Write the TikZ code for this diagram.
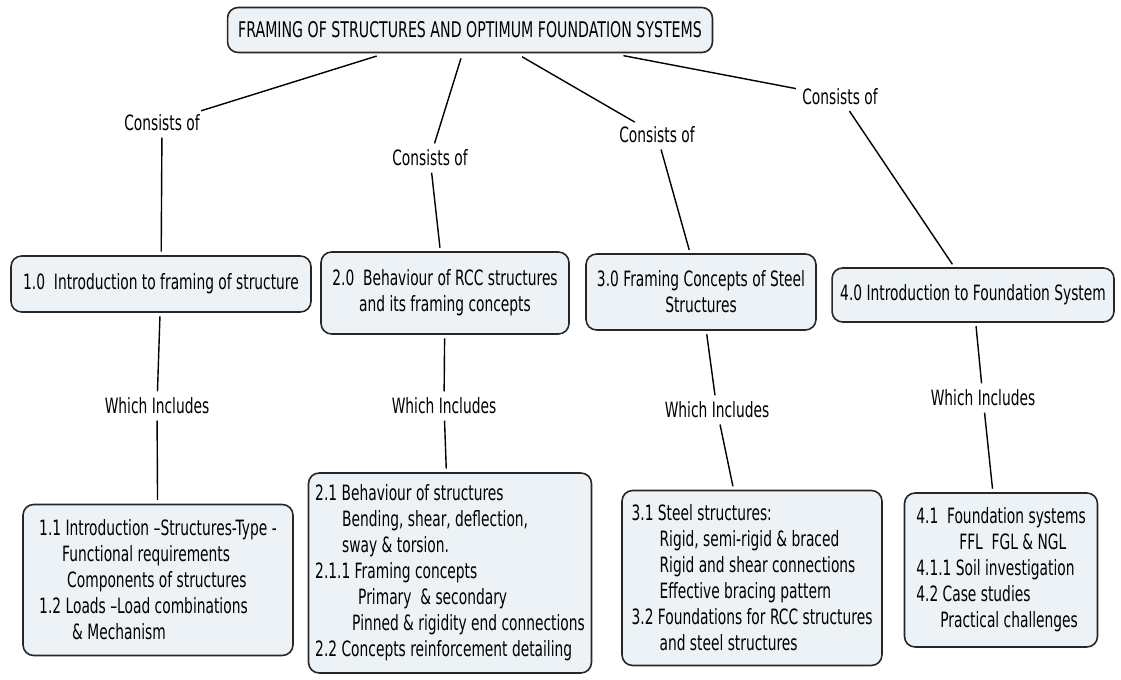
\documentclass[tikz,border=0pt]{standalone}
\usepackage{fontspec}
\setmainfont{DejaVu Sans}[FakeStretch=0.655]
\usetikzlibrary{calc,positioning}
\definecolor{mapFill}{RGB}{236,242,245}
\definecolor{mapEdge}{RGB}{38,38,38}
\tikzset{
  concept/.style={draw=mapEdge,fill=mapFill,rounded corners=6pt,line width=0.9pt,inner sep=0pt,align=center,font=\fontsize{12}{14.8}\selectfont},
  conceptlist/.style={concept,align=left},
  linkword/.style={inner sep=1.5pt,font=\fontsize{12}{13}\selectfont},
  link/.style={draw=black,line width=0.8pt,shorten <=2pt,shorten >=2pt}
}
\newcommand{\Ind}[1]{\hspace*{#1}}

\begin{document}
\begin{tikzpicture}[x=0.02cm,y=-0.02cm]
\useasboundingbox (0,0) rectangle (1121,679);
\node[concept,minimum width=9.7cm,minimum height=0.9cm,font=\fontsize{12.3}{14}\selectfont] (frame) at (470,30) {FRAMING OF STRUCTURES AND OPTIMUM FOUNDATION SYSTEMS};

\node[concept,minimum width=6.0cm,minimum height=1.12cm] (intro) at (161,284) {1.0~ Introduction to framing of structure};
\node[concept,minimum width=4.96cm,minimum height=1.64cm] (rcc) at (445,293) {2.0~ Behaviour of RCC structures\\and its framing concepts};
\node[concept,minimum width=4.6cm,minimum height=1.52cm] (steel) at (701,292) {3.0 Framing Concepts of Steel\\Structures};
\node[concept,minimum width=5.64cm,minimum height=1.08cm] (found) at (973,295) {4.0 Introduction to Foundation System};

\node[conceptlist,minimum width=5.4cm,minimum height=3.02cm] (introlist) at (158,580) {%
1.1 Introduction –Structures-Type -\\
\Ind{0.46cm}Functional requirements\\
\Ind{0.56cm}Components of structures\\
1.2 Loads –Load combinations\\
\Ind{0.66cm}\& Mechanism};
\node[conceptlist,minimum width=5.66cm,minimum height=4.0cm] (rcclist) at (450,573) {%
2.1 Behaviour of structures\\
\Ind{0.54cm}Bending, shear, deflection,\\
\Ind{0.54cm}sway \& torsion.\\
2.1.1 Framing concepts\\
\Ind{0.86cm}Primary~ \& secondary\\
\Ind{0.74cm}Pinned \& rigidity end connections\\
2.2 Concepts reinforcement detailing};
\node[conceptlist,minimum width=5.2cm,minimum height=3.5cm] (steellist) at (752,578) {%
3.1 Steel structures:\\
\Ind{0.56cm}Rigid, semi-rigid \& braced\\
\Ind{0.56cm}Rigid and shear connections\\
\Ind{0.56cm}Effective bracing pattern\\
3.2 Foundations for RCC structures\\
\Ind{0.56cm}and steel structures};
\node[conceptlist,minimum width=3.86cm,minimum height=3.08cm] (foundlist) at (1001,570) {%
4.1~ Foundation systems\\
\Ind{0.86cm}FFL~ FGL \& NGL\\
4.1.1 Soil investigation\\
4.2 Case studies\\
\Ind{0.48cm}Practical challenges};

\node[linkword] (c1) at (162,123) {Consists of};
\node[linkword] (c2) at (430,158) {Consists of};
\node[linkword] (c3) at (657,135) {Consists of};
\node[linkword] (c4) at (840,97) {Consists of};
\node[linkword] (w1) at (157,406) {Which Includes};
\node[linkword] (w2) at (444,406) {Which Includes};
\node[linkword] (w3) at (717,410) {Which Includes};
\node[linkword] (w4) at (983,398) {Which Includes};

\coordinate (f1) at (380,55);
\coordinate (f2) at (462,55);
\coordinate (f3) at (519,55);
\coordinate (f4) at (620,55);

\draw[link] (f1) -- (c1);
\draw[link] (f2) -- (c2);
\draw[link] (f3) -- (c3);
\draw[link] (f4) -- (c4);
\draw[link] (c1) -- (intro);
\draw[link] (c2) -- (rcc);
\draw[link] (c3) -- (steel);
\draw[link] (c4) -- (found);
\draw[link] (intro) -- (w1);
\draw[link] (w1) -- (introlist);
\draw[link] (rcc) -- (w2);
\draw[link] (w2) -- (rcclist);
\draw[link] (steel) -- (w3);
\draw[link] (w3) -- (steellist);
\draw[link] (found) -- (w4);
\draw[link] (w4) -- (foundlist);
\end{tikzpicture}
\end{document}
